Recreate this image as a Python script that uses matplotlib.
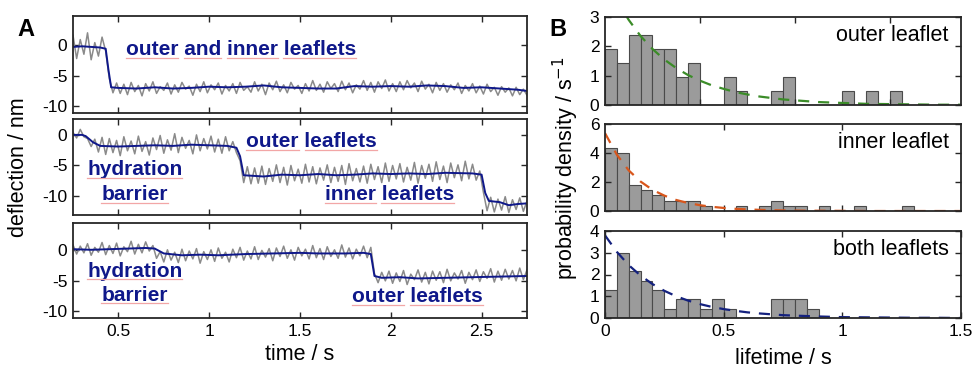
import numpy as np
import matplotlib
matplotlib.use("Agg")
import matplotlib.pyplot as plt
from matplotlib.lines import Line2D

plt.rcParams["font.family"] = ["Liberation Sans", "DejaVu Sans"]
plt.rcParams["axes.unicode_minus"] = False

# ---- panel A: deflection traces (gray = raw, blue = filtered) ----
t_start, t_end = 0.25, 2.75

gray_top = [
    1.6, -2.2, 0.9, -1.5, 2.0, -2.4, 0.4, -1.8, 1.3, -1.0,
    -5.5, -7.8, -6.2, -7.9, -6.4, -8.1, -6.1, -7.6, -6.6, -8.3,
    -6.3, -7.5, -6.0, -7.9, -6.8, -7.4, -6.2, -8.0, -6.5, -7.7,
    -6.1, -7.2, -6.7, -8.2, -6.4, -7.6, -6.0, -7.8, -6.5, -7.3,
    -6.2, -8.0, -6.6, -7.5, -6.3, -7.9, -6.1, -7.4, -6.8, -7.7,
    -6.0, -7.5, -6.4, -8.1, -6.2, -7.3, -5.9, -7.6, -6.5, -7.8,
    -6.1, -7.2, -6.6, -7.9, -6.3, -7.5, -5.8, -7.4, -6.4, -7.7,
    -6.0, -7.1, -6.3, -7.6, -5.9, -7.3, -6.2, -7.8, -6.5, -7.2,
    -5.8, -7.4, -6.1, -7.7, -6.0, -7.1, -5.7, -7.5, -6.3, -7.6,
    -6.0, -7.3, -5.8, -7.0, -6.2, -7.6, -5.9, -7.2, -6.4, -7.8,
    -6.1, -7.4, -6.3, -7.7, -6.5, -7.3, -6.2, -7.9, -6.6, -7.5,
    -6.3, -7.8, -6.7, -8.0, -6.4, -7.6, -6.9, -8.2, -6.8, -7.7,
    -7.0, -8.3, -6.9, -8.1, -7.2, -8.2,
]
gray_mid = [
    0.4, -0.5, 0.9, -0.3, -0.6, -1.9, -0.7, -2.8, -0.4, -3.2,
    -0.6, -2.9, -0.9, -3.4, -0.3, -2.6, -1.0, -3.1, -0.2, -2.7,
    -1.1, -3.3, -0.5, -2.4, -0.1, -3.0, -0.8, -2.5, 0.2, -2.9,
    -0.4, -2.2, -0.9, -3.1, 0.0, -2.6, -0.6, -2.3, -0.2, -2.8,
    -0.7, -3.0, -0.3, -2.6, -1.1, -2.9, -4.2, -7.8, -5.2, -8.0,
    -5.4, -7.9, -5.1, -8.1, -5.5, -7.6, -4.9, -7.8, -5.3, -8.2,
    -5.0, -7.5, -5.6, -7.9, -4.8, -7.7, -5.2, -8.0, -5.4, -7.4,
    -4.9, -7.8, -5.3, -7.6, -5.0, -8.1, -4.7, -7.5, -5.5, -7.7,
    -5.1, -7.9, -4.8, -7.3, -5.2, -7.8, -4.6, -7.6, -5.0, -7.2,
    -4.7, -7.7, -5.3, -7.4, -4.5, -7.9, -5.0, -7.1, -4.8, -7.6,
    -4.4, -7.3, -5.1, -7.8, -4.6, -7.0, -4.9, -7.5, -4.3, -7.2,
    -4.8, -7.4, -5.9, -9.4, -12.4, -10.2, -12.6, -10.5, -12.3, -10.1,
    -12.7, -10.6, -12.2, -10.3, -12.5, -10.8,
]
gray_bot = [
    0.9, -0.6, 0.7, -0.4, 1.1, -0.8, 0.5, -0.3, 1.3, -0.7,
    0.8, -0.5, 1.2, -0.9, 0.6, -0.2, 1.5, -0.6, 1.0, -0.4,
    1.4, -0.1, 0.8, -1.3, -0.2, -1.9, 0.1, -1.6, -0.3, -2.0,
    0.2, -1.7, -0.1, -1.4, 0.3, -2.1, -0.2, -1.5, 0.1, -1.8,
    0.4, -1.3, -0.3, -1.9, 0.2, -1.2, 0.5, -1.6, -0.1, -1.4,
    0.6, -1.5, 0.0, -1.1, 0.3, -1.7, 0.4, -1.0, 0.7, -1.3,
    0.1, -1.6, 0.5, -0.9, 0.2, -1.4, 0.8, -1.2, 0.3, -1.5,
    0.6, -1.0, 0.1, -1.3, 0.9, -1.1, 0.4, -1.4, 0.2, -0.9,
    0.7, -1.2, 0.5, -3.8, -5.3, -3.6, -5.0, -3.4, -5.4, -3.7,
    -5.1, -3.3, -5.6, -3.9, -4.8, -3.2, -5.2, -3.6, -5.5, -3.4,
    -4.9, -3.5, -5.3, -3.1, -5.0, -3.7, -4.7, -3.3, -5.4, -3.6,
    -4.8, -3.2, -5.1, -3.5, -4.6, -3.0, -5.2, -3.4, -4.9, -3.1,
    -4.7, -3.3, -5.0, -2.9, -4.8, -3.2,
]

blue_top_t = [0.25, 0.30, 0.35, 0.40, 0.43, 0.445, 0.46, 0.5, 0.6, 0.7, 0.8, 0.9, 1.0, 1.1,
              1.2, 1.3, 1.4, 1.5, 1.6, 1.7, 1.8, 1.9, 2.0, 2.1, 2.2, 2.3, 2.4, 2.5, 2.6, 2.7, 2.75]
blue_top_y = [-0.3, -0.2, -0.3, -0.4, -0.6, -4.0, -6.9, -7.0, -7.1, -6.9, -7.1, -7.0, -6.8, -6.9,
              -6.8, -6.6, -6.9, -7.0, -7.1, -7.1, -6.7, -6.8, -6.7, -6.8, -6.6, -6.7, -7.0, -6.9, -7.1, -7.3, -7.5]
blue_mid_t = [0.25, 0.30, 0.32, 0.36, 0.40, 0.5, 0.6, 0.7, 0.8, 0.9, 1.0, 1.1, 1.15, 1.17, 1.19,
              1.3, 1.4, 1.5, 1.6, 1.7, 1.8, 1.9, 2.0, 2.1, 2.2, 2.3, 2.45, 2.5, 2.52, 2.54, 2.6, 2.65, 2.7, 2.75]
blue_mid_y = [0.0, 0.0, -0.2, -1.2, -1.8, -1.9, -1.8, -1.7, -1.8, -1.6, -1.7, -1.8, -2.1, -3.5, -6.6,
              -6.8, -6.5, -6.6, -6.4, -6.6, -6.5, -6.3, -6.4, -6.3, -6.4, -6.2, -6.3, -6.5, -9.5, -10.8, -11.0, -11.5, -11.3, -11.2]
blue_bot_t = [0.25, 0.35, 0.45, 0.55, 0.65, 0.70, 0.75, 0.85, 0.95, 1.05, 1.2, 1.35, 1.5, 1.6,
              1.75, 1.85, 1.89, 1.91, 1.95, 2.05, 2.15, 2.3, 2.45, 2.6, 2.75]
blue_bot_y = [0.2, 0.1, 0.2, 0.3, 0.4, 0.3, -0.5, -0.8, -0.7, -0.8, -0.6, -0.5, -0.4, -0.5,
              -0.5, -0.4, -0.6, -4.2, -4.5, -4.4, -4.6, -4.5, -4.4, -4.3, -4.2]

# ---- panel B: lifetime histograms (bin width 0.05 s) + exponential fits ----
bin_w = 0.05
dens_outer = [1.9, 1.43, 2.38, 2.38, 1.9, 1.9, 0.95, 1.43, 0, 0, 0.95, 0.48, 0, 0, 0.48, 0.95,
              0, 0, 0, 0, 0.48, 0, 0.48, 0, 0.48]
dens_inner = [4.35, 4.0, 1.8, 1.45, 1.1, 0.72, 0.72, 0.72, 0.36, 0, 0, 0.36, 0, 0.36, 0.72, 0.36,
              0.36, 0, 0.36, 0, 0, 0.36, 0, 0, 0, 0.36]
dens_both = [1.3, 3.0, 2.15, 1.72, 1.3, 0.43, 0.86, 0.86, 0.43, 0.86, 0.43, 0, 0, 0, 0.86, 0.86,
             0.86, 0.43]

fit_x = [0, 0.05, 0.1, 0.15, 0.2, 0.25, 0.3, 0.35, 0.4, 0.45, 0.5, 0.55, 0.6, 0.65, 0.7, 0.75,
         0.8, 0.85, 0.9, 1.0, 1.1, 1.2, 1.3, 1.4, 1.5]
fit_outer = [4.4, 3.57, 2.9, 2.35, 1.91, 1.55, 1.26, 1.02, 0.83, 0.67, 0.55, 0.44, 0.36, 0.29, 0.24,
             0.19, 0.16, 0.13, 0.1, 0.07, 0.04, 0.03, 0.02, 0.01, 0.01]
fit_inner = [5.37, 3.88, 2.8, 2.03, 1.46, 1.06, 0.76, 0.55, 0.4, 0.29, 0.21, 0.15, 0.11, 0.08, 0.06,
             0.04, 0.03, 0.02, 0.02, 0.01, 0.0, 0.0, 0.0, 0.0, 0.0]
fit_both = [3.8, 3.04, 2.43, 1.95, 1.56, 1.25, 1.0, 0.8, 0.64, 0.51, 0.41, 0.33, 0.26, 0.21, 0.17,
            0.13, 0.11, 0.09, 0.07, 0.04, 0.03, 0.02, 0.01, 0.01, 0.0]

W, H = 973, 377
fig = plt.figure(figsize=(W / 100, H / 100), dpi=100)

NAVY = "#0f188a"
FRAME = "#262626"
LAB_FS = 15.5


def style(ax, fs):
    for s in ax.spines.values():
        s.set_color(FRAME)
        s.set_linewidth(1.3)
    ax.tick_params(direction="in", top=True, right=True, length=4, width=1.0,
                   color=FRAME, labelsize=fs, pad=4)


def box(l, t, r, b):
    # pixel box -> figure fraction
    return [l / W, 1 - b / H, (r - l) / W, (b - t) / H]


# panel A
a_boxes = [box(73, 16, 527, 113), box(73, 119, 527, 215), box(73, 223, 527, 318)]
a_ylims = [(-11.1, 4.75), (-13.1, 2.6), (-11.1, 4.5)]
grays = [gray_top, gray_mid, gray_bot]
blues = [(blue_top_t, blue_top_y), (blue_mid_t, blue_mid_y), (blue_bot_t, blue_bot_y)]
axA = []
for i in range(3):
    ax = fig.add_axes(a_boxes[i])
    g = grays[i]
    ax.plot(np.linspace(t_start, t_end, len(g)), g, color="#8a8a8a", lw=1.1)
    ax.plot(blues[i][0], blues[i][1], color=NAVY, lw=1.4)
    ax.set_xlim(t_start, t_end)
    ax.set_ylim(*a_ylims[i])
    ax.set_xticks([0.5, 1, 1.5, 2, 2.5])
    ax.set_yticks([-10, -5, 0])
    ax.set_yticklabels(["-10", "-5", "0"])
    style(ax, 12.5)
    if i < 2:
        ax.set_xticklabels([])
    else:
        ax.set_xticklabels(["0.5", "1", "1.5", "2", "2.5"])
    axA.append(ax)

labels_A = [
    (0, 0.54, -0.8, "outer and inner leaflets", "left"),
    (1, 1.205, -1.1, "outer leaflets", "left"),
    (1, 0.59, -5.7, "hydration", "center"),
    (1, 0.59, -9.8, "barrier", "center"),
    (1, 1.635, -9.8, "inner leaflets", "left"),
    (2, 0.59, -3.45, "hydration", "center"),
    (2, 0.59, -7.4, "barrier", "center"),
    (2, 1.785, -7.6, "outer leaflets", "left"),
]
txts = []
for k, x, y, s, ha in labels_A:
    txts.append(axA[k].text(x, y, s, ha=ha, va="center", fontsize=15,
                            fontweight="bold", color=NAVY))

# panel B
b_boxes = [box(605, 17, 961, 105), box(605, 124, 961, 211), box(605, 231, 961, 318)]
dens = [dens_outer, dens_inner, dens_both]
fits = [(fit_outer, "#3b8c28"), (fit_inner, "#d8561c"), (fit_both, "#14217e")]
b_ylims = [3, 6, 4]
b_yticks = [[0, 1, 2, 3], [0, 2, 4, 6], [0, 1, 2, 3, 4]]
b_xticks = [[0.4, 0.8, 1.2], [0.5, 1], [0, 0.5, 1, 1.5]]
names = ["outer leaflet", "inner leaflet", "both leaflets"]
for i in range(3):
    ax = fig.add_axes(b_boxes[i])
    d = dens[i]
    edges = np.arange(len(d)) * bin_w
    ax.bar(edges, d, width=bin_w, align="edge", color="#9b9b9b",
           edgecolor="#4a4a4a", linewidth=0.8)
    ax.plot(fit_x, fits[i][0], "--", color=fits[i][1], lw=1.6, dashes=(5, 4))
    ax.set_xlim(0, 1.5)
    ax.set_ylim(0, b_ylims[i])
    ax.set_yticks(b_yticks[i])
    ax.set_xticks(b_xticks[i])
    style(ax, 12.5)
    if i < 2:
        ax.set_xticklabels([])
    else:
        ax.set_xticklabels(["0", "0.5", "1", "1.5"])
    ax.text(0.965, 0.79, names[i], transform=ax.transAxes, ha="right", va="center",
            fontsize=15.5)

# axis labels and panel letters
fig.text(19 / W, 1 - 167 / H, "deflection / nm", rotation=90, ha="center", va="center", fontsize=LAB_FS)
fig.text(300 / W, 1 - 355 / H, "time / s", ha="center", va="center", fontsize=LAB_FS)
fig.text(566 / W, 1 - 168 / H, "probability density / s$^{-1}$", rotation=90, ha="center",
         va="center", fontsize=LAB_FS)
fig.text(783 / W, 1 - 358 / H, "lifetime / s", ha="center", va="center", fontsize=LAB_FS)
fig.text(26 / W, 1 - 30 / H, "A", ha="center", va="center", fontsize=17, fontweight="bold")
fig.text(558 / W, 1 - 30 / H, "B", ha="center", va="center", fontsize=17, fontweight="bold")

# faint red spell-check underlines under each annotation word
fig.canvas.draw()
r = fig.canvas.get_renderer()
for tx in txts:
    bb = tx.get_window_extent(r)
    s = tx.get_text()
    fp = tx.get_fontproperties()
    desc = r.get_text_width_height_descent(s, fp, ismath=False)[2]
    lp_desc = r.get_text_width_height_descent("lp", fp, ismath=False)[2]
    yy = bb.y0 + max(desc, lp_desc) - 2.5
    pos = 0
    for w in s.split(" "):
        st = s.index(w, pos)
        pos = st + len(w)
        x0 = bb.x0 + (r.get_text_width_height_descent(s[:st], fp, ismath=False)[0] if st else 0)
        x1 = bb.x0 + r.get_text_width_height_descent(s[:pos], fp, ismath=False)[0]
        fig.add_artist(Line2D([x0 / W, x1 / W], [yy / H, yy / H], transform=fig.transFigure,
                              color="#f2a6a6", lw=0.9))

fig.savefig("out.png", dpi=100)
